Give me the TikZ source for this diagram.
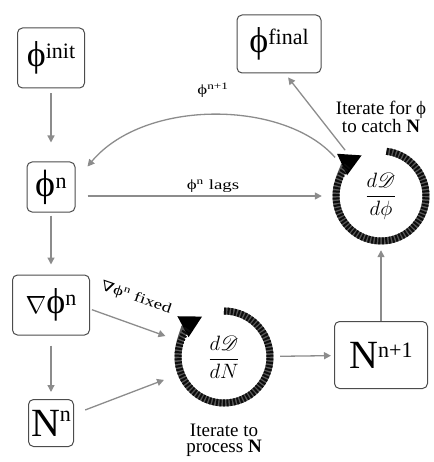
\documentclass[tikz,border=0pt]{standalone}
\usepackage{amsmath}
\usepackage{mathrsfs}
\usepackage{fontspec}
\setmainfont{Liberation Serif}
\newfontfamily\djv{DejaVu Serif}
\usetikzlibrary{arrows.meta}
\newcommand{\Bsym}[5]{{\fontsize{#1}{#1}\selectfont #2}{\fontsize{#3}{#3}\selectfont\raisebox{#4}{#5}}}
\newcommand{\wtext}[1]{\scalebox{1.35}[1]{#1}}
\begin{document}
\begin{tikzpicture}[x=1pt,y=-1pt,
 box/.style={draw=black!70, line width=1pt, rounded corners=5pt, inner sep=0pt, align=center},
 garrow/.style={draw=black!45, line width=1.3pt, -{Triangle[length=7pt,width=7pt]}},
 ring/.style={line width=7pt, draw=black!65},
 ringhatch/.style={line width=7pt, draw=black!95, dash pattern=on 2pt off 1.5pt},
 ringhead/.style={-{Triangle[length=22pt,width=22pt,color=black]}},
 hub/.style={circle, minimum size=94pt, inner sep=0pt},
 lbl/.style={font=\fontsize{14pt}{14pt}\selectfont, inner sep=1pt},
 note/.style={font=\fontsize{19pt}{16pt}\selectfont, align=center, inner sep=0pt}
]
\useasboundingbox (0,0) rectangle (433,462);
% boxes
\node[box, minimum width=67pt, minimum height=60pt] (init) at (51,58) {\Bsym{36pt}{ϕ}{22pt}{8pt}{init}};
\node[box, minimum width=48pt, minimum height=50pt] (phin) at (51,187) {\Bsym{38pt}{ϕ}{22pt}{8pt}{n}};
\node[box, minimum width=77pt, minimum height=60pt] (grad) at (51,305) {{\fontsize{36pt}{36pt}\selectfont$\nabla$}\Bsym{36pt}{ϕ}{22pt}{8pt}{n}};
\node[box, minimum width=45pt, minimum height=47pt] (Nn) at (51,423) {\Bsym{40pt}{N}{22pt}{15pt}{n}};
\node[box, minimum width=84pt, minimum height=58pt] (final) at (279,44) {\Bsym{36pt}{ϕ}{22pt}{8pt}{final}};
\node[box, minimum width=93pt, minimum height=67pt] (Nn1) at (381,355) {\Bsym{40pt}{N}{22pt}{11pt}{n+1}};
% hubs
\node[hub] (cphi) at (381,196) {\fontsize{20pt}{20pt}\selectfont$\displaystyle\frac{d\mathscr{D}}{d\phi}$};
\node[hub] (cN) at (224,357) {\fontsize{20pt}{20pt}\selectfont$\displaystyle\frac{d\mathscr{D}}{dN}$};
% rings
\draw[ring, ringhead] ([shift={(83:45pt)}]cphi.center) arc[start angle=83, end angle=-245, radius=45pt];
\draw[ringhatch] ([shift={(83:45pt)}]cphi.center) arc[start angle=83, end angle=-222, radius=45pt];
\draw[ring, ringhead] ([shift={(90:46pt)}]cN.center) arc[start angle=90, end angle=-242, radius=46pt];
\draw[ringhatch] ([shift={(90:46pt)}]cN.center) arc[start angle=90, end angle=-219, radius=46pt];
% labels
\node[lbl] (lagl) at (213,186) {\wtext{ϕ\textsuperscript{n} lags}};
\node[lbl] (nextl) at (213,90) {\wtext{ϕ\textsuperscript{n+1}}};
\node[lbl, rotate=-19] (fixl) at (136,298) {\wtext{{\djv ∇}ϕ\textsuperscript{n} fixed}};
\node[note] (catch) at (381,117) {Iterate for ϕ\\to catch \textbf{N}};
\node[note] (proc) at (224,440) {Iterate to\\process \textbf{N}};
% connectors
\draw[garrow, shorten <=5pt, shorten >=19pt] (init) -- (phin);
\draw[garrow, shorten <=3pt, shorten >=10pt] (phin) -- (grad);
\draw[garrow, shorten <=10pt, shorten >=7pt] (grad) -- (Nn);
\draw[garrow, shorten <=2pt, shorten >=15pt] ([yshift=-4pt]grad.east) -- (cN);
\draw[garrow, shorten <=12pt, shorten >=17pt] (Nn) -- (cN);
\draw[garrow, shorten <=9pt, shorten >=3pt] (cN) -- (Nn1);
\draw[garrow, shorten >=7pt] (Nn1) -- (cphi);
\draw[garrow, shorten <=12pt, shorten >=12pt] (phin.east |- cphi.center) -- (cphi);
\draw[garrow, shorten <=11pt, shorten >=5pt] (cphi) -- ([xshift=6pt]final.south);
\draw[garrow] ([shift={(140:60pt)}]cphi.center) .. controls (285,100) and (145,98) .. ([shift={(12pt,-5pt)}]phin.north east);
\end{tikzpicture}
\end{document}
